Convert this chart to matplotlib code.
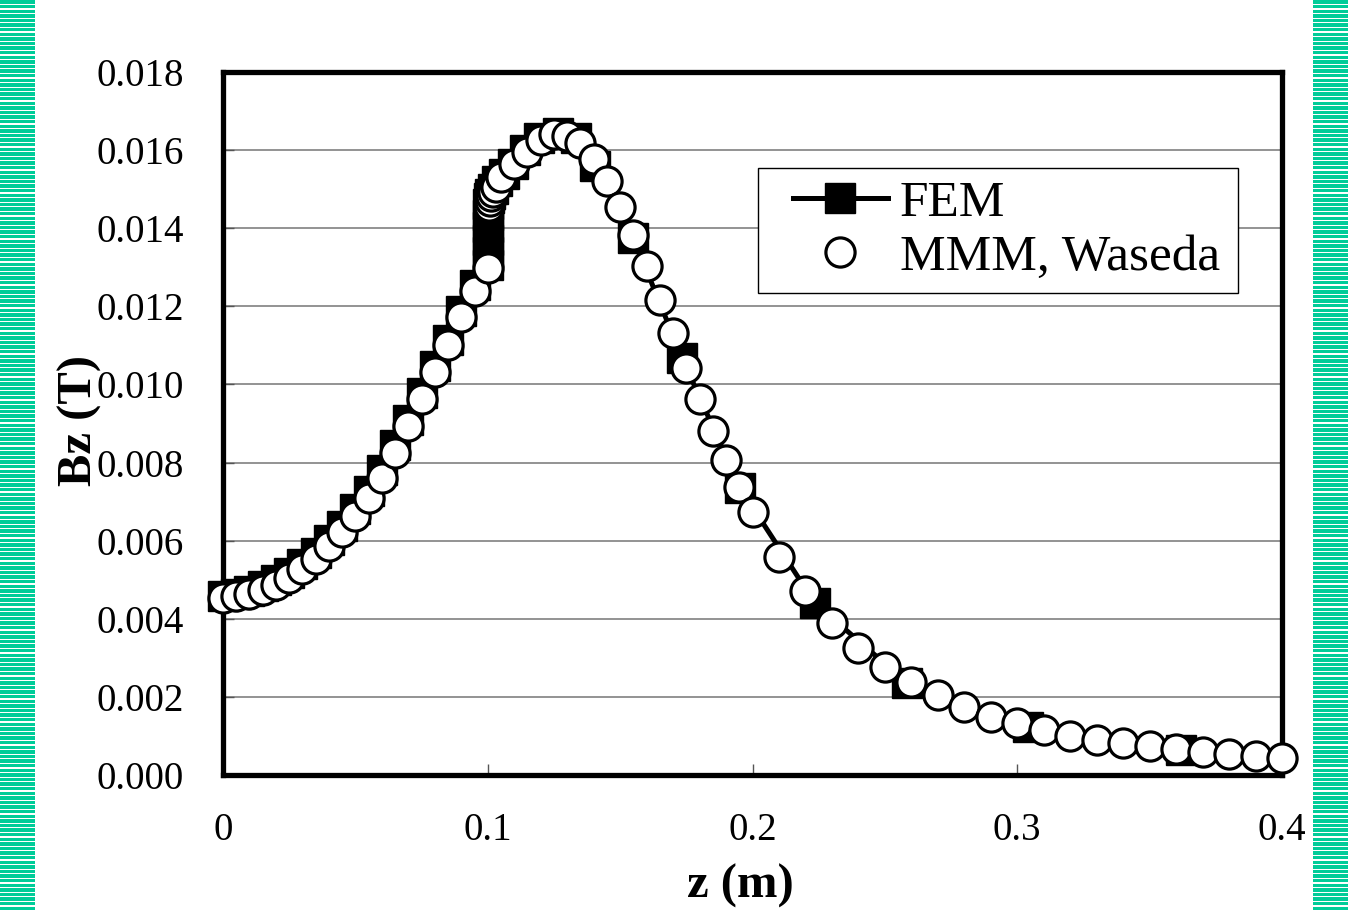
import matplotlib
matplotlib.use("Agg")
import matplotlib.pyplot as plt
from matplotlib.patches import Rectangle

# --------------------------
# Data
# --------------------------
# FEM (black squares, line)
fem_z = [0.000, 0.005, 0.010, 0.015, 0.020, 0.025, 0.030, 0.035, 0.040, 0.045,
         0.050, 0.055, 0.060, 0.065, 0.070, 0.075, 0.080, 0.085, 0.090, 0.095,
         0.100, 0.100, 0.100, 0.100, 0.100, 0.100,
         0.1005, 0.101, 0.102, 0.1035, 0.106, 0.1095, 0.114, 0.1195, 0.1265,
         0.1335, 0.1405, 0.155, 0.1734, 0.1953, 0.2236, 0.2584, 0.304, 0.362]
fem_b = [0.00458, 0.00464, 0.00472, 0.00484, 0.00499, 0.00518, 0.00541, 0.00568, 0.00602, 0.00638,
         0.00680, 0.00728, 0.00782, 0.00845, 0.00910, 0.00978, 0.01048, 0.01115, 0.01188, 0.01255,
         0.01305, 0.01338, 0.01370, 0.01402, 0.01434, 0.01462,
         0.01478, 0.01488, 0.01500, 0.01520, 0.01540, 0.01565, 0.01600, 0.01630, 0.01645,
         0.01630, 0.01560, 0.01375, 0.01068, 0.00735, 0.00440, 0.00236, 0.00123, 0.00064]

# MMM, Waseda (open circles)
mmm_z = [0.000, 0.005, 0.010, 0.015, 0.020, 0.025, 0.030, 0.035, 0.040, 0.045,
         0.050, 0.055, 0.060, 0.065, 0.070, 0.075, 0.080, 0.085, 0.090, 0.095,
         0.100, 0.1003, 0.1008, 0.1013, 0.102, 0.103,
         0.105, 0.110, 0.115, 0.120, 0.125, 0.130, 0.135, 0.140, 0.145, 0.150,
         0.155, 0.160, 0.165, 0.170, 0.175, 0.180, 0.185, 0.190, 0.195, 0.200,
         0.21, 0.22, 0.23, 0.24, 0.25, 0.26, 0.27, 0.28, 0.29, 0.30,
         0.31, 0.32, 0.33, 0.34, 0.35, 0.36, 0.37, 0.38, 0.39, 0.40]
mmm_b = [0.00453, 0.00458, 0.00464, 0.00474, 0.00487, 0.00505, 0.00527, 0.00553, 0.00587, 0.00622,
         0.00663, 0.00710, 0.00760, 0.00825, 0.00893, 0.00962, 0.01032, 0.01100, 0.01172, 0.01240,
         0.01298, 0.01458, 0.01470, 0.01482, 0.01494, 0.01506,
         0.01530, 0.01565, 0.01595, 0.01625, 0.01642, 0.01636, 0.01618, 0.01578, 0.01520, 0.01454,
         0.01382, 0.01302, 0.01215, 0.01133, 0.01043, 0.00962, 0.00882, 0.00807, 0.00738, 0.00673,
         0.00558, 0.00471, 0.00389, 0.00325, 0.00277, 0.00238, 0.00205, 0.00174, 0.00149, 0.00133,
         0.00115, 0.00100, 0.00090, 0.00082, 0.00074, 0.00066, 0.00060, 0.00054, 0.00049, 0.00044]

x_ticks = [0, 0.1, 0.2, 0.3, 0.4]
x_tick_labels = ["0", "0.1", "0.2", "0.3", "0.4"]
y_ticks = [0.000, 0.002, 0.004, 0.006, 0.008, 0.010, 0.012, 0.014, 0.016, 0.018]
y_tick_labels = ["%.3f" % v for v in y_ticks]

# --------------------------
# Plot
# --------------------------
plt.rcParams["font.family"] = ["Liberation Serif", "DejaVu Serif"]

fig = plt.figure(figsize=(13.48, 9.10), dpi=100)

# green striped side bands
stripe_green = "#00CC99"
period = 4.6 / 910
y = 0.0
while y < 1.0:
    fig.patches.append(Rectangle((0, y), 35 / 1348, period * 0.72, transform=fig.transFigure,
                                 facecolor=stripe_green, edgecolor="none"))
    fig.patches.append(Rectangle((1313 / 1348, y), 35 / 1348, period * 0.72, transform=fig.transFigure,
                                 facecolor=stripe_green, edgecolor="none"))
    y += period

ax = fig.add_axes([223 / 1348, 1 - 775 / 910, (1282 - 223) / 1348, (775 - 72) / 910])

ax.plot(fem_z, fem_b, color="black", lw=3.6, marker="s", markersize=21,
        markerfacecolor="black", markeredgecolor="black", label="FEM",
        clip_on=False, zorder=3)
ax.plot(mmm_z, mmm_b, linestyle="none", marker="o", markersize=21,
        markerfacecolor="white", markeredgecolor="black", markeredgewidth=2.3,
        label="MMM, Waseda", clip_on=False, zorder=4)

ax.set_xlim(0, 0.4)
ax.set_ylim(0, 0.018)
ax.set_xticks(x_ticks)
ax.set_xticklabels(x_tick_labels)
ax.set_yticks(y_ticks)
ax.set_yticklabels(y_tick_labels)
ax.tick_params(axis="both", direction="in", length=8, width=1, labelsize=28, color="#555555")
ax.tick_params(axis="x", pad=27)
ax.tick_params(axis="y", pad=28)

ax.yaxis.grid(True, color="#808080", lw=1.2)
ax.set_axisbelow(True)
for s in ax.spines.values():
    s.set_linewidth(3.8)
    s.set_color("black")

fig.text(80 / 1348, 1 - 420 / 910, "Bz (T)", rotation=90, ha="center", va="center",
         fontsize=35, fontweight="bold")
fig.text(740 / 1348, 0.002, "z (m)", ha="center", va="bottom", fontsize=35, fontweight="bold")

# legend box drawn separately so its size matches the reference
ax.add_patch(Rectangle((0.5052, 0.6856), 0.4533, 0.1778, transform=ax.transAxes,
                       facecolor="white", edgecolor="black", lw=1.0, zorder=5))
leg = ax.legend(loc="center left", bbox_to_anchor=(0.538, 0.7745), fontsize=37,
                frameon=False, handlelength=1.85, handletextpad=0.23,
                labelspacing=0.15, borderpad=0, borderaxespad=0)
leg.set_zorder(6)

fig.savefig("out.png", dpi=100)
